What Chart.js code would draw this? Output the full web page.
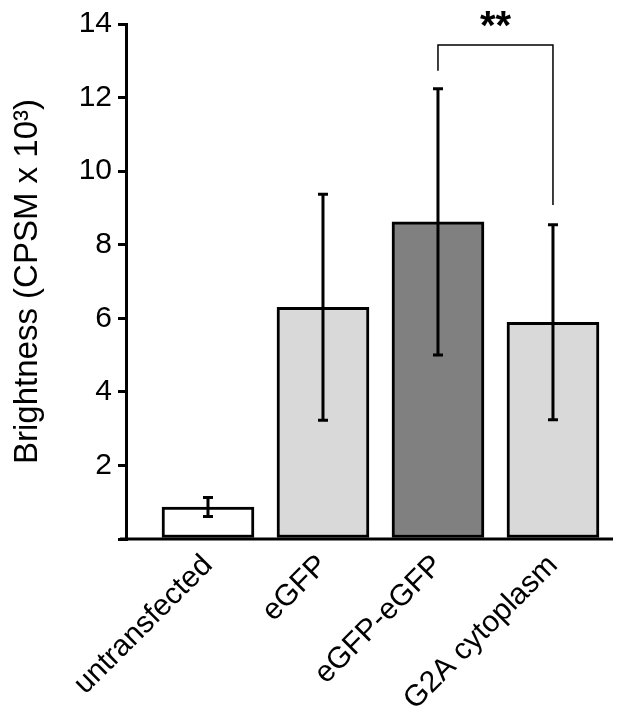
<!DOCTYPE html>
<html>
<head>
<meta charset="utf-8">
<script src="https://cdn.jsdelivr.net/npm/chart.js@4.4.1/dist/chart.umd.min.js"></script>
<style>
  html, body { margin: 0; padding: 0; background: #fff; }
  #wrap { width: 624px; height: 719px; }
</style>
</head>
<body>
<div id="wrap"><canvas id="c" width="624" height="719"></canvas></div>
<script>
const LABELS = ['untransfected', 'eGFP', 'eGFP-eGFP', 'G2A cytoplasm'];
const MEANS  = [0.87, 6.3, 8.62, 5.89];
const ERRORS = [0.26, 3.07, 3.62, 2.65];
const FILLS  = ['#ffffff', '#d9d9d9', '#808080', '#d9d9d9'];
const Y_TICKS = [2, 4, 6, 8, 10, 12, 14];

// significance bracket between eGFP-eGFP and G2A cytoplasm
const BRACKET_FROM = 2;
const BRACKET_TO = 3;
const BRACKET_TOP = 13.43;
const BRACKET_LEFT_END = 12.73;
const BRACKET_RIGHT_END = 9.08;
const BRACKET_TEXT = '**';

const FONT = "'Liberation Sans', Arial, sans-serif";

const errorBars = {
  id: 'errorBars',
  afterDatasetsDraw(chart) {
    const { ctx, scales: { x, y } } = chart;
    ctx.save();
    ctx.strokeStyle = '#000';
    ctx.lineWidth = 3;
    ctx.lineCap = 'butt';
    MEANS.forEach((m, i) => {
      const px = x.getPixelForValue(i);
      const top = y.getPixelForValue(m + ERRORS[i]);
      const bot = y.getPixelForValue(m - ERRORS[i]);
      ctx.beginPath();
      ctx.moveTo(px, top); ctx.lineTo(px, bot);
      ctx.moveTo(px - 5, top); ctx.lineTo(px + 5, top);
      ctx.moveTo(px - 5, bot); ctx.lineTo(px + 5, bot);
      ctx.stroke();
    });

    // bracket
    const x1 = x.getPixelForValue(BRACKET_FROM);
    const x2 = x.getPixelForValue(BRACKET_TO);
    const yt = y.getPixelForValue(BRACKET_TOP);
    ctx.lineWidth = 1.5;
    ctx.beginPath();
    ctx.moveTo(x1, y.getPixelForValue(BRACKET_LEFT_END));
    ctx.lineTo(x1, yt);
    ctx.lineTo(x2, yt);
    ctx.lineTo(x2, y.getPixelForValue(BRACKET_RIGHT_END));
    ctx.stroke();
    ctx.fillStyle = '#000';
    ctx.font = 'bold 40px ' + FONT;
    ctx.textAlign = 'center';
    ctx.textBaseline = 'alphabetic';
    ctx.fillText(BRACKET_TEXT, (x1 + x2) / 2, yt - 6);

    // x axis line extends slightly left of y axis
    const base = y.getPixelForValue(0);
    ctx.lineWidth = 3;
    ctx.beginPath();
    ctx.moveTo(chart.chartArea.left - 6, base);
    ctx.lineTo(chart.chartArea.right, base);
    ctx.stroke();
    ctx.restore();
  }
};

new Chart(document.getElementById('c'), {
  type: 'bar',
  data: {
    datasets: [{
      data: MEANS.map((m, i) => ({ x: i, y: m })),
      backgroundColor: FILLS,
      borderColor: '#000',
      borderWidth: 3,
      borderSkipped: false,
      barThickness: 92,
    }],
  },
  options: {
    responsive: false,
    animation: false,
    layout: { padding: { top: 21, right: 11, left: 0, bottom: 0 } },
    plugins: { legend: { display: false }, tooltip: { enabled: false } },
    scales: {
      x: {
        type: 'linear',
        offset: false,
        min: -0.713,
        max: 3.522,
        afterBuildTicks: (s) => { s.ticks = LABELS.map((_, i) => ({ value: i })); },
        afterFit: (s) => { s.height = 180; },
        grid: { display: false, drawTicks: false },
        border: { display: false },
        ticks: {
          autoSkip: false,
          minRotation: 45,
          maxRotation: 45,
          padding: 9,
          color: '#000',
          font: { family: FONT, size: 30 },
          callback: (v) => LABELS[v],
        },
      },
      y: {
        min: 0,
        max: 14,
        afterBuildTicks: (s) => { s.ticks = [0, ...Y_TICKS].map(v => ({ value: v })); },
        afterFit: (s) => { s.width = 126; },
        grid: { drawOnChartArea: false, drawTicks: true, tickLength: 8, color: '#000', lineWidth: 3 },
        border: { display: true, color: '#000', width: 3 },
        ticks: {
          padding: 6,
          color: '#000',
          font: { family: FONT, size: 30 },
          callback: (v) => (v === 0 ? '' : v),
        },
        title: {
          display: true,
          text: 'Brightness (CPSM x 10³)',
          color: '#000',
          font: { family: FONT, size: 33 },
          padding: { top: 8, bottom: 0 },
        },
      },
    },
  },
  plugins: [errorBars],
});
</script>
</body>
</html>
